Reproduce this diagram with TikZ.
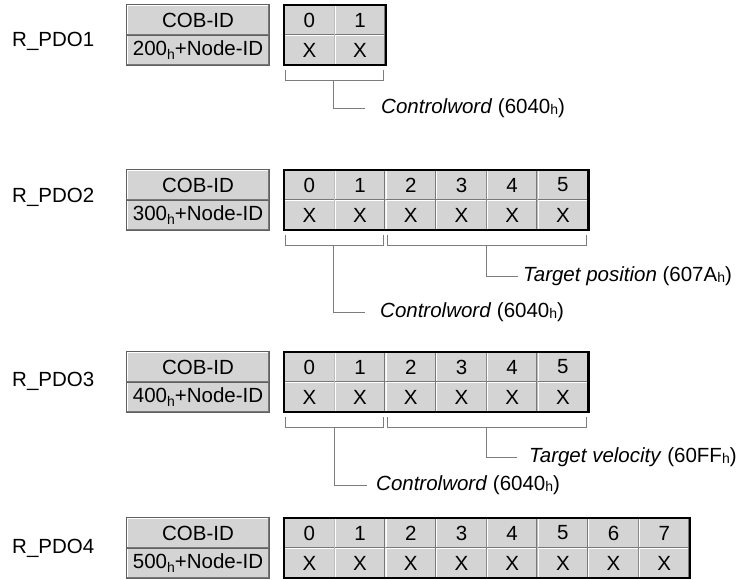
\documentclass[tikz,border=0pt]{standalone}
\usepackage{fontspec}
\setmainfont{Liberation Sans}
\usetikzlibrary{calc}

\definecolor{cellgray}{RGB}{212,212,212}
\definecolor{edgedark}{RGB}{120,120,120}
\definecolor{brkgray}{RGB}{125,125,125}

% 下标 h
\newcommand{\hsub}{\raisebox{-3.5pt}{\fontsize{14}{14}\selectfont h}}
\newcommand{\hlab}{\raisebox{-1.5pt}{\fontsize{14}{14}\selectfont h}}

\tikzset{
  txt/.style={inner sep=0pt, font=\fontsize{20.5}{24}\selectfont},
  cell/.style={txt, minimum width=50.7pt, minimum height=30pt, fill=cellgray,
    path picture={
      \draw[white, line width=2.4pt] (path picture bounding box.south west)
        -- (path picture bounding box.north west) -- (path picture bounding box.north east);
      \draw[edgedark, line width=2.4pt] (path picture bounding box.north east)
        -- (path picture bounding box.south east) -- (path picture bounding box.south west);}},
  cobcell/.style={cell, minimum width=142pt},
  rahmen/.style={line width=2.2pt, black},
  cobrahmen/.style={line width=1pt, edgedark!80!black},
  brk/.style={line width=1pt, brkgray},
}

\begin{document}
\begin{tikzpicture}[x=1pt, y=-1pt, line join=miter]
    \useasboundingbox (0,0) rectangle (739,579);

    % 1. 四个 R_PDO：名称、COB-ID 框、数据字节
    \foreach \r/\yo/\n/\dy in {1/5/2/36, 2/170/6/27.5, 3/352/6/29, 4/518/8/30} {
        \pgfmathtruncatemacro\base{\r+1}
        \pgfmathtruncatemacro\last{\n-1}
        \node[txt, anchor=west] (name\r) at (12,\yo+\dy) {R\_PDO\r};
        \node[cobcell] (cob\r) at (198,\yo+15) {COB-ID};
        \node[cobcell] (nid\r) at (198,\yo+45) {\base00\hsub+Node-ID};
        \draw[cobrahmen] (cob\r.north west) rectangle (nid\r.south east);
        \draw[cobrahmen] (cob\r.south west) -- (cob\r.south east);
        \foreach \i in {0,...,\last} {
            \node[cell] (p\r-n\i) at (284+25.35+50.7*\i,\yo+15) {\i};
            \node[cell] (p\r-x\i) at (284+25.35+50.7*\i,\yo+45) {X};
        }
        \draw[rahmen] (p\r-n0.north west) rectangle (p\r-x\last.south east);
    }

    % 2. 对象名称
    \node[txt, anchor=west] (cw1) at (381,108) {\textit{Controlword} (6040\hlab)};
    \node[txt, anchor=west] (tp2) at (523,276) {\textit{Target position} (607A\hlab)};
    \node[txt, anchor=west] (cw2) at (380,312) {\textit{Controlword} (6040\hlab)};
    \node[txt, anchor=west] (tv3) at (529,457) {\textit{Target velocity} (60FF\hlab)};
    \node[txt, anchor=west] (cw3) at (376,485) {\textit{Controlword} (6040\hlab)};

    % 3. 括号和引线
    \draw[brk] ($(p1-x0.south west)+(2,5)$) -- ++(0,10) -| ($(p1-x1.south east)+(-2,5)$);
    \draw[brk] ($(p1-x0.south west)!0.5!(p1-x1.south east)+(-1,15)$) |- ([xshift=-16pt]cw1.west);

    \draw[brk] ($(p2-x0.south west)+(2,5)$) -- ++(0,10) -| ($(p2-x1.south east)+(-2,5)$);
    \draw[brk] ($(p2-x2.south west)+(2,5)$) -- ++(0,10) -| ($(p2-x5.south east)+(-2,5)$);
    \draw[brk] ($(p2-x0.south west)!0.5!(p2-x1.south east)+(-1,15)$) |- ([xshift=-15pt]cw2.west);
    \draw[brk] ($(p2-x2.south west)!0.5!(p2-x5.south east)+(0,15)$) |- ([xshift=-5pt]tp2.west);

    \draw[brk] ($(p3-x0.south west)+(2,5)$) -- ++(0,10) -| ($(p3-x1.south east)+(-2,5)$);
    \draw[brk] ($(p3-x2.south west)+(2,5)$) -- ++(0,10) -| ($(p3-x5.south east)+(-2,5)$);
    \draw[brk] ($(p3-x0.south west)!0.5!(p3-x1.south east)+(0,15)$) |- ([xshift=-9pt]cw3.west);
    \draw[brk] ($(p3-x2.south west)!0.5!(p3-x5.south east)+(0,15)$) |- ([xshift=-12pt]tv3.west);
\end{tikzpicture}
\end{document}
